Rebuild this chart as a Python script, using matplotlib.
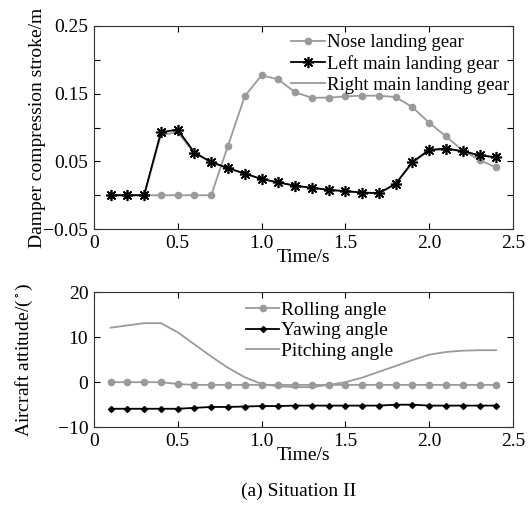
import matplotlib
matplotlib.use('Agg')
import matplotlib.pyplot as plt

plt.rcParams['font.family'] = ['Liberation Serif', 'DejaVu Serif']
plt.rcParams['mathtext.fontset'] = 'stix'

# time points
t = [0.1, 0.2, 0.3, 0.4, 0.5, 0.6, 0.7, 0.8, 0.9, 1.0, 1.1, 1.2,
     1.3, 1.4, 1.5, 1.6, 1.7, 1.8, 1.9, 2.0, 2.1, 2.2, 2.3, 2.4]

# damper compression stroke (m)
nose = [0, 0, 0, 0, 0, 0, 0, 0.073, 0.146, 0.177, 0.171, 0.152,
        0.144, 0.144, 0.146, 0.147, 0.147, 0.145, 0.130, 0.107, 0.087, 0.066, 0.052, 0.041]
left_main = [0, 0, 0, 0.093, 0.097, 0.063, 0.049, 0.040, 0.032, 0.024, 0.019, 0.014,
             0.011, 0.008, 0.006, 0.004, 0.003, 0.017, 0.049, 0.067, 0.069, 0.065, 0.059, 0.056]
right_main = [0, 0, 0, 0.089, 0.093, 0.062, 0.049, 0.040, 0.032, 0.024, 0.019, 0.014,
              0.011, 0.008, 0.006, 0.004, 0.003, 0.016, 0.048, 0.066, 0.068, 0.065, 0.059, 0.056]

# aircraft attitude (deg)
rolling = [0, 0, 0, 0, -0.4, -0.6, -0.6, -0.6, -0.6, -0.6, -0.6, -0.6,
           -0.6, -0.6, -0.6, -0.6, -0.6, -0.6, -0.6, -0.6, -0.6, -0.6, -0.6, -0.6]
yawing = [-5.9, -5.9, -5.9, -5.9, -5.9, -5.7, -5.5, -5.5, -5.4, -5.3, -5.3, -5.2,
          -5.2, -5.2, -5.2, -5.2, -5.2, -5.0, -5.0, -5.2, -5.2, -5.2, -5.2, -5.2]
pitching = [12.1, 12.6, 13.1, 13.1, 11.1, 8.4, 5.7, 3.2, 1.1, -0.4, -0.9, -1.1,
            -1.1, -0.6, 0.0, 1.0, 2.3, 3.6, 4.9, 6.1, 6.7, 7.0, 7.1, 7.1]

FS = 14
LFS = 13.5
gray = '#9a9a9a'

fig = plt.figure(figsize=(5.3, 5.08), dpi=100)
ax1 = fig.add_axes([0.177, 0.549, 0.791, 0.400])
ax2 = fig.add_axes([0.177, 0.159, 0.791, 0.266])

ax1.plot(t, nose, color=gray, lw=1.3, marker='o', ms=4.5, label='Nose landing gear')
ax1.plot(t, right_main, color=gray, lw=1.3, zorder=2)
ax1.plot(t, left_main, color='black', lw=1.3, marker=(8, 2, 0), ms=8, mew=1.2,
         label='Left main landing gear', zorder=3)
ax1.plot([], [], color=gray, lw=1.3, label='Right main landing gear')
ax1.set_xlim(0, 2.5)
ax1.set_ylim(-0.05, 0.25)
ax1.set_yticks([-0.05, 0, 0.05, 0.1, 0.15, 0.2, 0.25])
ax1.set_yticklabels(['\u22120.05', '', '0.05', '', '0.15', '', '0.25'])
ax1.set_xticks([0, 0.5, 1.0, 1.5, 2.0, 2.5])
ax1.set_xticklabels(['0', '0.5', '1.0', '1.5', '2.0', '2.5'])
ax1.set_xlabel('Time/s', fontsize=FS, labelpad=-2)
ax1.set_ylabel('Damper compression stroke/m', fontsize=FS)
ax1.yaxis.set_label_coords(-0.113, 0.5)
ax1.legend(loc='upper right', frameon=False, fontsize=LFS, handlelength=1.8,
           handletextpad=0.1, labelspacing=0.2, borderaxespad=0.0,
           bbox_to_anchor=(1.008, 0.997))

ax2.plot(t, rolling, color=gray, lw=1.3, marker='o', ms=4.5, label='Rolling angle')
ax2.plot(t, yawing, color='black', lw=1.3, marker='D', ms=3, label='Yawing angle')
ax2.plot(t, pitching, color=gray, lw=1.3, label='Pitching angle')
ax2.set_xlim(0, 2.5)
ax2.set_ylim(-10, 20)
ax2.set_yticks([-10, 0, 10, 20])
ax2.set_yticklabels(['\u221210', '0', '10', '20'])
ax2.set_xticks([0, 0.5, 1.0, 1.5, 2.0, 2.5])
ax2.set_xticklabels(['0', '0.5', '1.0', '1.5', '2.0', '2.5'])
ax2.set_xlabel('Time/s', fontsize=FS, labelpad=-2)
ax2.set_ylabel('Aircraft attitude/($^\\circ$)', fontsize=FS)
ax2.yaxis.set_label_coords(-0.14, 0.5)
ax2.legend(loc='upper left', frameon=False, fontsize=FS, handlelength=1.7,
           handletextpad=0.1, labelspacing=0.15, borderaxespad=0.0,
           bbox_to_anchor=(0.345, 0.99))

for ax in (ax1, ax2):
    ax.tick_params(direction='in', top=True, right=True, labelsize=FS, length=4, pad=4)
    for s in ax.spines.values():
        s.set_color('#333333')

fig.text(0.563, 0.033, '(a) Situation II', ha='center', va='center', fontsize=FS)

fig.savefig('out.png', dpi=100)
